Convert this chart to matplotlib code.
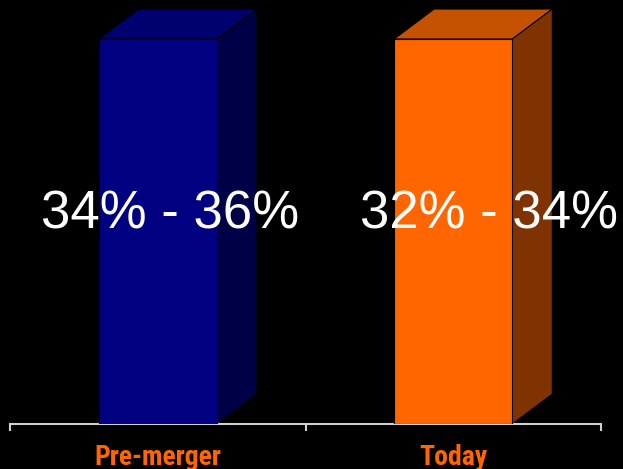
import matplotlib.pyplot as plt
from matplotlib.patches import Polygon

plt.rcParams['font.family'] = ['Liberation Sans', 'DejaVu Sans']

categories = ['Pre-merger', 'Today']
heights = [100, 100]
range_labels = ['34% - 36%', '32% - 34%']

front_cols = ['#000080', '#FF6600']
top_cols = ['#00006E', '#C45200']
side_cols = ['#000046', '#7F3300']

W, H = 623, 469
fig = plt.figure(figsize=(W / 100, H / 100), dpi=100)
fig.patch.set_facecolor('black')

# axes from axis line (x 10..601 px, y 424 px from top) to top of figure
ax = fig.add_axes([10 / W, 45 / H, 591 / W, 424 / H])
ax.set_facecolor('black')
ax.set_xlim(-0.5, 1.5)
ax.set_ylim(0, 100 * 424 / 385)

width = 0.4
dx = 40 / 295.5          # depth in data units
dy = 30 / 385 * 100

x = list(range(len(categories)))
bars = ax.bar(x, heights, width=width, color=front_cols, edgecolor='black',
              linewidth=0.8, zorder=3)

for b, tc, sc in zip(bars, top_cols, side_cols):
    x0, x1, h = b.get_x(), b.get_x() + b.get_width(), b.get_height()
    top = Polygon([(x0, h), (x1, h), (x1 + dx, h + dy), (x0 + dx, h + dy)],
                  closed=True, facecolor=tc, edgecolor='black', lw=0.8, zorder=2)
    side = Polygon([(x1, 0), (x1 + dx, dy), (x1 + dx, h + dy), (x1, h)],
                   closed=True, facecolor=sc, edgecolor='black', lw=0.8, zorder=2)
    ax.add_patch(top)
    ax.add_patch(side)

label_dx = [0.04, 0.12]
for xi, h, lab, off in zip(x, heights, range_labels, label_dx):
    ax.text(xi + off, h * 0.545, lab, color='white', fontsize=38,
            ha='center', va='center', zorder=5)

for s in ['top', 'left', 'right']:
    ax.spines[s].set_visible(False)
ax.spines['bottom'].set_color('#D0D0D0')
ax.spines['bottom'].set_linewidth(1.5)
ax.set_yticks([])
ax.set_xticks([-0.5, 0.5, 1.5])
ax.set_xticklabels([])
ax.tick_params(axis='x', direction='out', length=5, width=1.5, color='#D0D0D0')

# category names in a narrow bold face, like the original
for xi, c in zip(x, categories):
    ax.annotate(c, xy=(xi, 0), xycoords='data', xytext=(0, -33),
                textcoords='offset pixels', ha='center', va='center',
                color='#FF6600', fontsize=20, fontweight='bold',
                family=['Roboto Condensed', 'Liberation Sans'],
                annotation_clip=False)

fig.savefig('out.png', dpi=100, facecolor='black')
